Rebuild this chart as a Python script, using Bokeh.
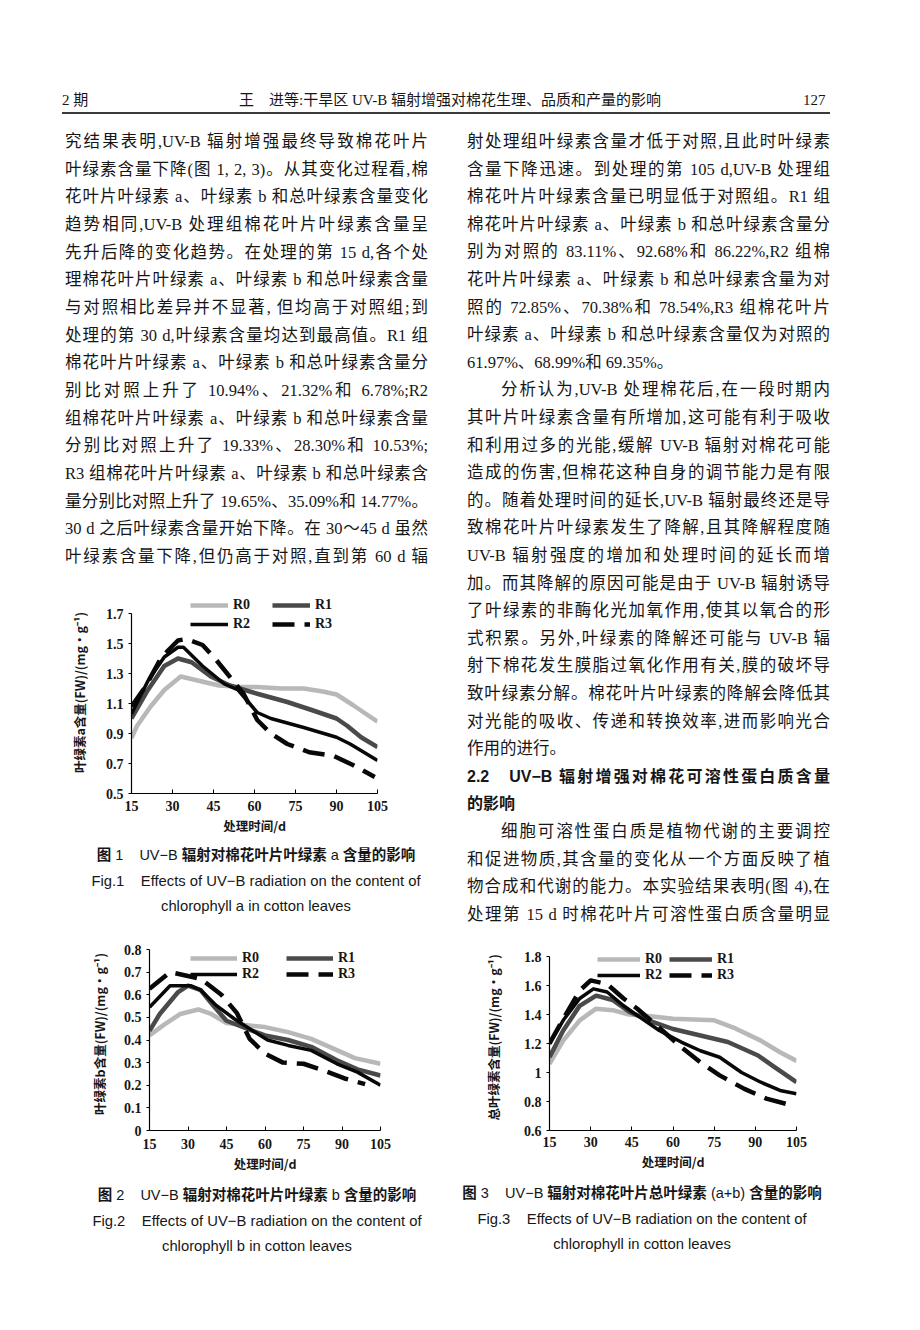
from bokeh.plotting import figure
from bokeh.models import Div, Range1d, FixedTicker, Legend, LegendItem, Spacer
from bokeh.layouts import column, row
from bokeh.embed import file_html
from bokeh.resources import INLINE

# ---------------- data ----------------
SERIES = ["R0", "R1", "R2", "R3"]
X_TICKS = [15, 30, 45, 60, 75, 90, 105]
X_TITLE = "处理时间/d"

# Fig.1 chlorophyll a
A_TITLE = "叶绿素a含量(FW)/(mg·g⁻¹)"
A_Y_TICKS = [0.5, 0.7, 0.9, 1.1, 1.3, 1.5, 1.7]
A_Y_LABELS = ["0.5", "0.7", "0.9", "1.1", "1.3", "1.5", "1.7"]
A_R0_DAY = [15, 17, 22, 27, 33, 40, 47, 55, 61, 70, 78, 85, 90, 96, 100, 105]
A_R0_VAL = [0.87, 0.95, 1.08, 1.19, 1.28, 1.25, 1.22, 1.21, 1.21, 1.20, 1.20, 1.18, 1.16, 1.09, 1.04, 0.98]
A_R1_DAY = [15, 21, 27, 32, 37, 44, 51, 61, 72, 82, 90, 94, 99, 105]
A_R1_VAL = [1.00, 1.19, 1.35, 1.40, 1.375, 1.28, 1.22, 1.165, 1.11, 1.05, 1.00, 0.95, 0.875, 0.81]
A_R2_DAY = [15, 21, 27, 32, 34, 41, 49, 54, 61, 66, 78, 90, 95, 105]
A_R2_VAL = [1.03, 1.25, 1.41, 1.475, 1.475, 1.35, 1.23, 1.19, 1.04, 1.00, 0.94, 0.875, 0.83, 0.72]
A_R3_DAY = [15, 20, 26, 32, 35, 41, 46, 50, 56, 61, 66, 72, 80, 89, 96, 104]
A_R3_VAL = [1.08, 1.21, 1.41, 1.52, 1.53, 1.49, 1.39, 1.30, 1.165, 0.99, 0.90, 0.83, 0.775, 0.75, 0.69, 0.61]

# Fig.2 chlorophyll b
B_TITLE = "叶绿素b含量(FW)/(mg·g⁻¹)"
B_Y_TICKS = [0, 0.1, 0.2, 0.3, 0.4, 0.5, 0.6, 0.7, 0.8]
B_Y_LABELS = ["0", "0.1", "0.2", "0.3", "0.4", "0.5", "0.6", "0.7", "0.8"]
B_R0_DAY = [15, 21, 27, 34, 39, 45, 53, 60, 69, 78, 88, 95, 105]
B_R0_VAL = [0.42, 0.47, 0.515, 0.535, 0.515, 0.475, 0.465, 0.457, 0.435, 0.405, 0.355, 0.32, 0.295]
B_R1_DAY = [15, 19, 26, 30, 35, 40, 45, 53, 60, 69, 78, 88, 96, 105]
B_R1_VAL = [0.44, 0.515, 0.61, 0.64, 0.62, 0.55, 0.485, 0.45, 0.42, 0.40, 0.37, 0.31, 0.27, 0.243]
B_R2_DAY = [15, 23, 28, 31, 35, 41, 48, 54, 61, 69, 78, 88, 96, 105]
B_R2_VAL = [0.545, 0.64, 0.64, 0.64, 0.62, 0.553, 0.494, 0.45, 0.40, 0.376, 0.354, 0.295, 0.258, 0.20]
B_R3_DAY = [15, 23, 35, 43, 49, 54, 60, 67, 75, 83, 91, 99]
B_R3_VAL = [0.626, 0.70, 0.67, 0.60, 0.52, 0.405, 0.34, 0.30, 0.295, 0.265, 0.23, 0.205]

# Fig.3 total chlorophyll
T_TITLE = "总叶绿素含量(FW)/(mg·g⁻¹)"
T_Y_TICKS = [0.6, 0.8, 1.0, 1.2, 1.4, 1.6, 1.8]
T_Y_LABELS = ["0.6", "0.8", "1", "1.2", "1.4", "1.6", "1.8"]
T_R0_DAY = [15, 20, 26, 32, 38, 44, 51, 60, 75, 82, 92, 99, 105]
T_R0_VAL = [1.06, 1.22, 1.36, 1.44, 1.43, 1.40, 1.39, 1.37, 1.36, 1.31, 1.22, 1.14, 1.08]
T_R1_DAY = [15, 20, 26, 32, 38, 44, 51, 60, 70, 80, 91, 97, 105]
T_R1_VAL = [1.105, 1.29, 1.46, 1.53, 1.50, 1.42, 1.36, 1.30, 1.255, 1.21, 1.117, 1.037, 0.933]
T_R2_DAY = [15, 20, 26, 31, 36, 42, 48, 55, 63, 70, 77, 85, 92, 99, 105]
T_R2_VAL = [1.198, 1.36, 1.51, 1.577, 1.555, 1.46, 1.38, 1.29, 1.21, 1.15, 1.105, 1.00, 0.933, 0.876, 0.853]
T_R3_DAY = [15, 20, 26, 30, 36, 42, 47, 54, 63, 70, 77, 86, 94, 104]
T_R3_VAL = [1.20, 1.37, 1.565, 1.635, 1.61, 1.51, 1.44, 1.325, 1.175, 1.07, 0.98, 0.887, 0.82, 0.77]

# ---------------- page text ----------------
HEADER_LEFT = "2 期"
HEADER_TITLE = "王　进等:干旱区 UV-B 辐射增强对棉花生理、品质和产量的影响"
HEADER_PAGE = "127"

LEFT_LINES = [
    "究结果表明,UV-B 辐射增强最终导致棉花叶片",
    "叶绿素含量下降(图 1, 2, 3)。从其变化过程看,棉",
    "花叶片叶绿素 a、叶绿素 b 和总叶绿素含量变化",
    "趋势相同,UV-B 处理组棉花叶片叶绿素含量呈",
    "先升后降的变化趋势。在处理的第 15 d,各个处",
    "理棉花叶片叶绿素 a、叶绿素 b 和总叶绿素含量",
    "与对照相比差异并不显著, 但均高于对照组;到",
    "处理的第 30 d,叶绿素含量均达到最高值。R1 组",
    "棉花叶片叶绿素 a、叶绿素 b 和总叶绿素含量分",
    "别比对照上升了 10.94%、21.32%和 6.78%;R2",
    "组棉花叶片叶绿素 a、叶绿素 b 和总叶绿素含量",
    "分别比对照上升了 19.33%、28.30%和 10.53%;",
    "R3 组棉花叶片叶绿素 a、叶绿素 b 和总叶绿素含",
    "量分别比对照上升了 19.65%、35.09%和 14.77%。",
    "30 d 之后叶绿素含量开始下降。在 30～45 d 虽然",
    "叶绿素含量下降,但仍高于对照,直到第 60 d 辐",
]
RIGHT_LINES = [
    "射处理组叶绿素含量才低于对照,且此时叶绿素",
    "含量下降迅速。到处理的第 105 d,UV-B 处理组",
    "棉花叶片叶绿素含量已明显低于对照组。R1 组",
    "棉花叶片叶绿素 a、叶绿素 b 和总叶绿素含量分",
    "别为对照的 83.11%、92.68%和 86.22%,R2 组棉",
    "花叶片叶绿素 a、叶绿素 b 和总叶绿素含量为对",
    "照的 72.85%、70.38%和 78.54%,R3 组棉花叶片",
    "叶绿素 a、叶绿素 b 和总叶绿素含量仅为对照的",
    "61.97%、68.99%和 69.35%。",
    "分析认为,UV-B 处理棉花后,在一段时期内",
    "其叶片叶绿素含量有所增加,这可能有利于吸收",
    "和利用过多的光能,缓解 UV-B 辐射对棉花可能",
    "造成的伤害,但棉花这种自身的调节能力是有限",
    "的。随着处理时间的延长,UV-B 辐射最终还是导",
    "致棉花叶片叶绿素发生了降解,且其降解程度随",
    "UV-B 辐射强度的增加和处理时间的延长而增",
    "加。而其降解的原因可能是由于 UV-B 辐射诱导",
    "了叶绿素的非酶化光加氧作用,使其以氧合的形",
    "式积累。另外,叶绿素的降解还可能与 UV-B 辐",
    "射下棉花发生膜脂过氧化作用有关,膜的破坏导",
    "致叶绿素分解。棉花叶片叶绿素的降解会降低其",
    "对光能的吸收、传递和转换效率,进而影响光合",
    "作用的进行。",
    "2.2&nbsp;&nbsp;&nbsp;UV−B 辐射增强对棉花可溶性蛋白质含量",
    "的影响",
    "细胞可溶性蛋白质是植物代谢的主要调控",
    "和促进物质,其含量的变化从一个方面反映了植",
    "物合成和代谢的能力。本实验结果表明(图 4),在",
    "处理第 15 d 时棉花叶片可溶性蛋白质含量明显",
]
RIGHT_LEFTALIGN = {8, 22, 24}
RIGHT_INDENT = {9, 25}
RIGHT_HEADING = {23, 24}

CAP1 = ["图 1", "UV−B", "辐射对棉花叶片叶绿素", "a", "含量的影响",
        "Fig.1", "Effects of UV−B radiation on the content of", "chlorophyll a in cotton leaves"]
CAP2 = ["图 2", "UV−B", "辐射对棉花叶片叶绿素", "b", "含量的影响",
        "Fig.2", "Effects of UV−B radiation on the content of", "chlorophyll b in cotton leaves"]
CAP3 = ["图 3", "UV−B", "辐射对棉花叶片总叶绿素", "(a+b)", "含量的影响",
        "Fig.3", "Effects of UV−B radiation on the content of", "chlorophyll in cotton leaves"]

# ---------------- styles ----------------
LINE_COLOR = {"R0": "#b8b8b8", "R1": "#4a4a4a", "R2": "#080808", "R3": "#080808"}
LINE_WIDTH = {"R0": 4.5, "R1": 4.5, "R2": 3.5, "R3": 4.5}
LINE_DASH = {"R0": "solid", "R1": "solid", "R2": "solid", "R3": "22 10"}

BODY_FONT = "'Liberation Serif','Noto Sans CJK SC'"
SANS_FONT = "'Liberation Sans','Noto Sans CJK SC'"
INK = "#161616"


def chart(w, h, mbl, mbr, mbt, mbb, pad, yr, yt, ytl, ytitle, days, vals, leg, ylab_st, xtick_st):
    frame_h = h - mbt - mbb
    # extend the range upward by `pad` px so the legend (above the top tick) is not clipped
    y_end = yr[1] + pad * (yr[1] - yr[0]) / (frame_h - pad)
    p = figure(width=w, height=h, x_range=Range1d(15, 105), y_range=Range1d(yr[0], y_end),
               output_backend="svg", toolbar_location=None,
               min_border_left=mbl, min_border_right=mbr,
               min_border_top=mbt, min_border_bottom=mbb, margin=0)
    p.outline_line_color = None
    p.xgrid.visible = False
    p.ygrid.visible = False
    p.background_fill_color = "white"
    p.border_fill_color = "white"
    p.xaxis.ticker = FixedTicker(ticks=X_TICKS)
    p.yaxis.ticker = FixedTicker(ticks=yt)
    p.yaxis.bounds = (yr[0], yr[1])
    p.yaxis.major_label_overrides = {v: s for v, s in zip(yt, ytl)}
    for ax in (p.xaxis[0], p.yaxis[0]):
        ax.axis_line_color = "black"
        ax.axis_line_width = 1.2
        ax.major_tick_line_color = "black"
        ax.minor_tick_line_color = None
        ax.major_label_text_font = "Liberation Serif"
        ax.major_label_text_font_style = "bold"
        ax.major_label_text_font_size = "14px"
        ax.major_label_text_color = INK
        ax.axis_label_text_font = "Noto Sans CJK SC"
        ax.axis_label_text_font_style = "bold"
        ax.axis_label_text_font_size = "12.5px"
        ax.axis_label_text_color = INK
    p.xaxis.major_tick_in = 4
    p.xaxis.major_tick_out = 0
    p.yaxis.major_tick_in = 0
    p.yaxis.major_tick_out = 3
    p.yaxis.major_label_standoff = 5
    p.xaxis.major_label_standoff = xtick_st
    p.yaxis.axis_label = ytitle
    p.xaxis.axis_label = X_TITLE
    p.yaxis.axis_label_standoff = ylab_st
    p.xaxis.axis_label_standoff = 2

    items = []
    for s in SERIES:
        r = p.line(days[s], vals[s], line_color=LINE_COLOR[s], line_width=LINE_WIDTH[s],
                   line_dash=LINE_DASH[s], line_join="round")
        items.append(LegendItem(label=s, renderers=[r]))
    lg = Legend(items=items, location=leg["loc"], orientation="horizontal", ncols=2,
                border_line_color=None, background_fill_alpha=0, padding=0, margin=0,
                spacing=leg["spacing"], glyph_width=leg["gw"], glyph_height=12,
                label_standoff=5, label_width=leg["lw"], label_height=12,
                label_text_font="Liberation Serif", label_text_font_style="bold",
                label_text_font_size="14px", label_text_color=INK)
    p.add_layout(lg, "center")
    return p


def line_html(txt, left, top, width, mode="j", font=BODY_FONT, size=16.5, weight="normal", lh=22):
    align = ("text-align:justify;text-align-last:justify;" if mode == "j" else "text-align:left;")
    if mode == "c":
        align = "text-align:center;"
    return (f'<div style="position:absolute;left:{left}px;top:{top}px;width:{width}px;'
            f'height:{lh}px;line-height:{lh}px;{align}font-family:{font};font-size:{size}px;'
            f'font-weight:{weight};color:{INK};">{txt}</div>')


def block(html, w, h):
    return Div(text=f'<div style="position:relative;width:{w}px;height:{h}px;">{html}</div>',
               width=w, height=h, margin=0)


def caption(c, cx, tops, w, h):
    l1 = (f'<b>{c[0].split()[0]}</b> {c[0].split()[1]}&nbsp;&nbsp;&nbsp; {c[1]} '
          f'<b>{c[2]}</b> {c[3]} <b>{c[4]}</b>')
    l2 = f'{c[5]}&nbsp;&nbsp;&nbsp; {c[6]}'
    html = (line_html(l1, cx - 200, tops[0], 400, "c", SANS_FONT, 14.5)
            + line_html(l2, cx - 200, tops[1], 400, "c", SANS_FONT, 14.8)
            + line_html(c[7], cx - 200, tops[2], 400, "c", SANS_FONT, 14.8))
    return block(html, w, h)


# ---------------- header ----------------
hdr = (line_html(HEADER_LEFT, 54, 81, 60, "l", BODY_FONT, 15)
       + line_html(HEADER_TITLE, 192, 81, 500, "c", BODY_FONT, 15)
       + line_html(HEADER_PAGE, 795, 81, 30, "l", BODY_FONT, 15)
       + '<div style="position:absolute;left:54px;top:104px;width:768px;height:1.5px;background:#3a3a3a;"></div>')
header = block(hdr, 904, 112)

# ---------------- left column ----------------
LH = 27.67
left_html = "".join(line_html(t, 57, round(142 + LH * i - 120 - 11, 1), 363)
                    for i, t in enumerate(LEFT_LINES))
textL = block(left_html, 450, 452)

fig1 = chart(450, 272, 123, 81, 19, 51, 22, (0.5, 1.7), A_Y_TICKS, A_Y_LABELS, A_TITLE,
             {"R0": A_R0_DAY, "R1": A_R1_DAY, "R2": A_R2_DAY, "R3": A_R3_DAY},
             {"R0": A_R0_VAL, "R1": A_R1_VAL, "R2": A_R2_VAL, "R3": A_R3_VAL},
             {"loc": (59, 161), "spacing": 3, "gw": 38, "lw": 36}, 14, 7)
cap1 = caption(CAP1, 248, [0, 26, 51], 450, 78)

fig2 = chart(432, 259, 123, 78, 15, 51, 12, (0, 0.8), B_Y_TICKS, B_Y_LABELS, B_TITLE,
             {"R0": B_R0_DAY, "R1": B_R1_DAY, "R2": B_R2_DAY, "R3": B_R3_DAY},
             {"R0": B_R0_VAL, "R1": B_R1_VAL, "R2": B_R2_VAL, "R3": B_R3_VAL},
             {"loc": (41, 148), "spacing": 0, "gw": 47, "lw": 44}, 12, 8)
fig2_row = row(Spacer(width=18, height=259, margin=0), fig2, spacing=0, margin=0)
cap2 = caption(CAP2, 249, [3, 29, 54], 450, 80)

left_col = column(textL, fig1, cap1, fig2_row, cap2, spacing=0, margin=0)

# ---------------- right column ----------------
RLH = 27.6
rparts = []
for i, t in enumerate(RIGHT_LINES):
    top = round(142 + RLH * i - 120 - 11, 1)
    mode = "l" if i in RIGHT_LEFTALIGN else "j"
    left, width = (9 + 34, 363 - 34) if i in RIGHT_INDENT else (9, 363)
    if i in RIGHT_HEADING:
        rparts.append(line_html(t, left, top, width, mode, SANS_FONT, 16, "bold"))
    else:
        rparts.append(line_html(t, left, top, width, mode))
textR = block("".join(rparts), 454, 812)

fig3 = chart(454, 246, 91, 116, 12, 48, 12, (0.6, 1.8), T_Y_TICKS, T_Y_LABELS, T_TITLE,
             {"R0": T_R0_DAY, "R1": T_R1_DAY, "R2": T_R2_DAY, "R3": T_R3_DAY},
             {"R0": T_R0_VAL, "R1": T_R1_VAL, "R2": T_R2_VAL, "R3": T_R3_VAL},
             {"loc": (48, 147), "spacing": 0, "gw": 43, "lw": 24}, 18, 6)
cap3 = caption(CAP3, 184, [4, 30, 55], 454, 82)

right_col = column(textR, fig3, cap3, spacing=0, margin=0)

page = column(header, row(left_col, right_col, spacing=0, margin=0), spacing=0, margin=(8, 0, 0, 8))

open("out.html", "w").write(file_html(page, INLINE))
